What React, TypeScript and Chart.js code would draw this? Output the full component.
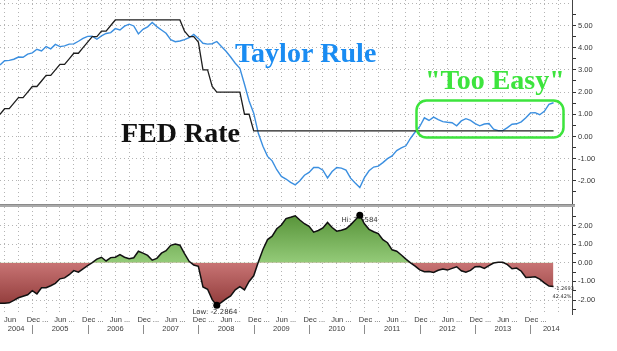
import React, { useEffect, useRef } from 'react';
import { Chart, registerables } from 'chart.js';

Chart.register(...registerables);

// ---------- categories (monthly, Jun 2004 .. Oct 2014; data ends Jun 2014) ----------
const MONTH_NAMES = ['Jan', 'Feb', 'Mar', 'Apr', 'May', 'Jun', 'Jul', 'Aug', 'Sep', 'Oct', 'Nov', 'Dec'];
const AXIS_YEARS = [2004, 2005, 2006, 2007, 2008, 2009, 2010, 2011, 2012, 2013, 2014];
const FIRST_MONTH_OF_AXIS = 5; // Jun 2004
const LAST_MONTH_OF_AXIS = 129; // Oct 2014

const categories: string[] = [];
AXIS_YEARS.forEach((y, yi) => {
  MONTH_NAMES.forEach((mn, mi) => {
    const m = yi * 12 + mi;
    if (m >= FIRST_MONTH_OF_AXIS && m <= LAST_MONTH_OF_AXIS) categories.push(`${mn} ${y}`);
  });
});

// ---------- series (Jun 2004 .. Jun 2014) ----------
const taylorRule = [
  3.22, 3.41, 3.43, 3.48, 3.58, 3.57, 3.71, 3.77, 3.93, 3.85, 4.05, 3.95,
  4.15, 4.05, 4.08, 4.16, 4.17, 4.29, 4.42, 4.51, 4.52, 4.38, 4.53, 4.64,
  4.68, 4.86, 4.80, 4.97, 5.06, 4.98, 4.62, 4.83, 4.94, 5.14, 4.95, 4.80,
  4.65, 4.36, 4.27, 4.30, 4.36, 4.45, 4.60, 4.42, 4.20, 4.16, 4.18, 4.28,
  4.05, 3.84, 3.58, 3.30, 3.07, 2.35, 1.60, 1.05, 0.14, -0.44, -0.90, -1.10,
  -1.50, -1.80, -1.92, -2.07, -2.18, -2.00, -1.75, -1.62, -1.40, -1.40, -1.52, -1.87,
  -1.58, -1.40, -1.43, -1.52, -1.88, -2.10, -2.30, -1.86, -1.55, -1.38, -1.34, -1.18,
  -1.00, -0.88, -0.64, -0.52, -0.42, -0.08, 0.20, 0.45, 0.84, 0.72, 0.87, 0.76,
  0.67, 0.64, 0.62, 0.48, 0.70, 0.80, 0.72, 0.58, 0.48, 0.56, 0.58, 0.33,
  0.26, 0.26, 0.40, 0.55, 0.57, 0.66, 0.84, 1.06, 1.07, 0.98, 1.13, 1.45, 1.52,
];

const fedRate = [
  1.00, 1.25, 1.25, 1.50, 1.75, 1.75, 2.00, 2.25, 2.25, 2.50, 2.75, 2.75,
  3.00, 3.25, 3.25, 3.50, 3.75, 3.75, 4.00, 4.25, 4.50, 4.50, 4.75, 4.75,
  5.00, 5.25, 5.25, 5.25, 5.25, 5.25, 5.25, 5.25, 5.25, 5.25, 5.25, 5.25,
  5.25, 5.25, 5.25, 5.25, 4.75, 4.50, 4.50, 4.25, 3.00, 3.00, 2.25, 2.00,
  2.00, 2.00, 2.00, 2.00, 2.00, 1.00, 1.00, 0.25, 0.25, 0.25, 0.25, 0.25,
  0.25, 0.25, 0.25, 0.25, 0.25, 0.25, 0.25, 0.25, 0.25, 0.25, 0.25, 0.25,
  0.25, 0.25, 0.25, 0.25, 0.25, 0.25, 0.25, 0.25, 0.25, 0.25, 0.25, 0.25,
  0.25, 0.25, 0.25, 0.25, 0.25, 0.25, 0.25, 0.25, 0.25, 0.25, 0.25, 0.25,
  0.25, 0.25, 0.25, 0.25, 0.25, 0.25, 0.25, 0.25, 0.25, 0.25, 0.25, 0.25,
  0.25, 0.25, 0.25, 0.25, 0.25, 0.25, 0.25, 0.25, 0.25, 0.25, 0.25, 0.25, 0.25,
];

const fedMinusTaylor = [
  -2.17, -2.17, -2.15, -2.02, -1.88, -1.80, -1.72, -1.50, -1.67, -1.34, -1.34, -1.23,
  -1.10, -0.86, -0.81, -0.64, -0.42, -0.50, -0.32, -0.15, 0.01, 0.20, 0.30, 0.10,
  0.28, 0.30, 0.44, 0.30, 0.22, 0.27, 0.62, 0.52, 0.40, 0.14, 0.24, 0.52,
  0.65, 0.94, 1.01, 0.95, 0.50, 0.08, -0.12, -0.19, -1.30, -1.42, -1.98, -2.2864,
  -2.12, -1.94, -1.78, -1.45, -1.28, -1.45, -1.00, -0.70, 0.04, 0.72, 1.25, 1.43,
  1.83, 2.03, 2.38, 2.45, 2.53, 2.30, 2.10, 1.96, 1.65, 1.74, 1.87, 2.17,
  1.90, 1.70, 1.75, 1.83, 2.04, 2.30, 2.5584, 2.10, 1.80, 1.67, 1.57, 1.24,
  1.08, 0.70, 0.62, 0.42, 0.20, 0.00, -0.18, -0.38, -0.48, -0.47, -0.52, -0.40,
  -0.33, -0.39, -0.30, -0.21, -0.43, -0.50, -0.41, -0.21, -0.20, -0.30, -0.15, -0.01,
  0.03, 0.03, -0.10, -0.32, -0.28, -0.45, -0.79, -0.77, -0.75, -0.88, -1.08, -1.25, -1.2693,
];
const lastPctLabel = '42.42%';

// ---------- tick labels ----------
const topAxisLabels = [-2, -1, 0, 1, 2, 3, 4, 5];
const topAxisMinor = [-2.5, -1.5, -0.5, 0.5, 1.5, 2.5, 3.5, 4.5, 5.5];
const topAxisGrid = [-2, -1, 0, 1, 2, 3, 4, 5, 6];
const bottomAxisLabels = [-2, -1, 0, 1, 2];
const bottomAxisMinor = [-2.5, -1.5, -0.5, 0.5, 1.5, 2.5];
const bottomAxisGrid = [-2, -1, 0, 1, 2];

const halfYearTicks = [
  'Jun 2004', 'Dec 2004', 'Jun 2005', 'Dec 2005', 'Jun 2006', 'Dec 2006', 'Jun 2007', 'Dec 2007',
  'Jun 2008', 'Dec 2008', 'Jun 2009', 'Dec 2009', 'Jun 2010', 'Dec 2010', 'Jun 2011', 'Dec 2011',
  'Jun 2012', 'Dec 2012', 'Jun 2013', 'Dec 2013',
];
const halfYearTickText = ['Jun', ...halfYearTicks.slice(1).map((t) => `${t.slice(0, 3)} ...`)];
const yearLabels = AXIS_YEARS.map(String);

const annotations = [
  { text: 'Taylor Rule', color: '#1a8cf2', x: 235, y: 61.5 },
  { text: 'FED Rate', color: '#111111', x: 121, y: 141.5 },
  { text: '"Too Easy"', color: '#3de43d', x: 425, y: 89 },
];

// ---------- styles ----------
const W = 617;
const TOP_H = 207;
const BOT_H = 144;
const AXIS_W = 45;
const GRID = '#b4b4b4';
const AXIS_FONT = '"Liberation Sans", Arial, sans-serif';

const isIn = (arr: number[], v: number) => arr.some((a) => Math.abs(a - v) < 1e-6);

function rightAxis(min: number, max: number, labels: number[], minor: number[], grid: number[]) {
  const all = [...labels, ...minor].sort((a, b) => a - b);
  const gridAll = Array.from(new Set([...all, ...grid])).sort((a, b) => a - b);
  return {
    type: 'linear',
    position: 'right',
    min,
    max,
    afterBuildTicks: (s: any) => {
      s.ticks = gridAll.map((v) => ({ value: v }));
    },
    afterFit: (s: any) => {
      s.width = AXIS_W;
      s.paddingTop = 0;
      s.paddingBottom = 0;
    },
    ticks: {
      autoSkip: false,
      padding: 2,
      color: '#333',
      font: { family: AXIS_FONT, size: 7.5 },
      callback: (v: any) => (isIn(labels, Number(v)) ? Number(v).toFixed(2) : ''),
    },
    grid: {
      color: (ctx: any) => (ctx.tick && isIn(grid, ctx.tick.value) ? GRID : 'rgba(0,0,0,0)'),
      tickColor: (ctx: any) => (ctx.tick && isIn(all, ctx.tick.value) ? '#333' : 'rgba(0,0,0,0)'),
      lineWidth: 1,
      drawTicks: true,
      tickLength: 4,
      tickWidth: 1,
    },
    border: { display: true, color: '#444', width: 1, dash: [1, 3] },
  };
}

function xAxis() {
  return {
    type: 'category',
    offset: false,
    ticks: { display: false, autoSkip: false },
    grid: {
      offset: false,
      drawTicks: false,
      lineWidth: 1,
      color: (ctx: any) =>
        (ctx.index + FIRST_MONTH_OF_AXIS) % 3 === 0 && ctx.index > 0 ? GRID : 'rgba(0,0,0,0)',
    },
    border: { display: false, dash: [1, 3] },
  };
}

const topDecor = {
  id: 'topDecor',
  afterDraw(chart: any) {
    const c = chart.ctx as CanvasRenderingContext2D;
    c.save();
    c.font = 'bold 28px "Liberation Serif", "Times New Roman", serif';
    c.textAlign = 'left';
    c.textBaseline = 'alphabetic';
    annotations.forEach((a) => {
      c.fillStyle = a.color;
      c.fillText(a.text, a.x, a.y);
    });
    c.strokeStyle = '#3de43d';
    c.lineWidth = 2.5;
    c.beginPath();
    (c as any).roundRect(416.5, 100.5, 147, 37, 10);
    c.stroke();
    // panel separator
    c.fillStyle = '#a9a9a9';
    c.fillRect(0, 204, 575, 3);
    c.fillStyle = '#8a8a8a';
    c.fillRect(0, 204, 575, 1);
    c.restore();
  },
};

const bottomDecor = {
  id: 'bottomDecor',
  beforeDatasetsDraw(chart: any) {
    const c = chart.ctx as CanvasRenderingContext2D;
    const meta = chart.getDatasetMeta(0);
    const hiIdx = fedMinusTaylor.indexOf(Math.max(...fedMinusTaylor));
    const loIdx = fedMinusTaylor.indexOf(Math.min(...fedMinusTaylor));
    const hi = meta.data[hiIdx];
    const lo = meta.data[loIdx];
    const last = meta.data[fedMinusTaylor.length - 1];
    c.save();
    c.fillStyle = '#333';
    c.textAlign = 'left';
    c.textBaseline = 'middle';
    c.font = '7px "DejaVu Sans", sans-serif';
    c.fillText(`Hi: ${fedMinusTaylor[hiIdx].toFixed(4)}`, hi.x - 18.3, hi.y + 5);
    c.fillText(`Low: ${fedMinusTaylor[loIdx].toFixed(4)}`, lo.x - 24.3, lo.y + 7);
    c.font = '5px "DejaVu Sans", sans-serif';
    c.fillText(fedMinusTaylor[fedMinusTaylor.length - 1].toFixed(4), last.x + 1, last.y + 2.5);
    c.fillText(lastPctLabel, last.x - 1, last.y + 10);
    c.restore();
  },
  afterDraw(chart: any) {
    const c = chart.ctx as CanvasRenderingContext2D;
    const xs = chart.scales.x;
    const area = chart.chartArea;
    const px = (name: string) => xs.getPixelForValue(categories.indexOf(name));
    c.save();
    c.fillStyle = '#3c3c3c';
    c.textBaseline = 'middle';
    c.font = `7.5px ${AXIS_FONT}`;
    c.textAlign = 'left';
    halfYearTicks.forEach((t, i) => {
      const x = Math.max(px(t) - 1, 4);
      c.fillText(halfYearTickText[i], x, area.bottom + 5.5);
    });
    // year separators and labels
    const seps = yearLabels.slice(1).map((y) => px(`Jan ${y}`));
    c.strokeStyle = '#8c8c8c';
    c.lineWidth = 1;
    seps.forEach((x) => {
      c.beginPath();
      c.moveTo(Math.round(x) + 0.5, area.bottom + 11);
      c.lineTo(Math.round(x) + 0.5, area.bottom + 20);
      c.stroke();
    });
    c.textAlign = 'center';
    yearLabels.forEach((y, i) => {
      const l = i === 0 ? area.left : seps[i - 1];
      const r = i === yearLabels.length - 1 ? area.right : seps[i];
      c.fillText(y, (l + r) / 2, area.bottom + 15);
    });
    c.restore();
  },
};

export default function App() {
  const topRef = useRef<HTMLCanvasElement>(null);
  const botRef = useRef<HTMLCanvasElement>(null);

  useEffect(() => {
    const hiIdx = fedMinusTaylor.indexOf(Math.max(...fedMinusTaylor));
    const loIdx = fedMinusTaylor.indexOf(Math.min(...fedMinusTaylor));

    const common = {
      responsive: false,
      maintainAspectRatio: false,
      animation: false,
      events: [],
      plugins: { legend: { display: false }, tooltip: { enabled: false } },
    };

    const top = new Chart(topRef.current!, {
      type: 'line',
      data: {
        labels: categories,
        datasets: [
          {
            label: 'FED Rate',
            data: fedRate,
            borderColor: '#1e1e1e',
            borderWidth: 1.3,
            pointRadius: 0,
            tension: 0,
            fill: false,
          },
          {
            label: 'Taylor Rule',
            data: taylorRule,
            borderColor: '#3b8fe0',
            borderWidth: 1.4,
            pointRadius: 0,
            tension: 0,
            fill: false,
          },
        ],
      },
      options: {
        ...common,
        layout: { padding: { top: 0, bottom: 4, left: 0, right: 0 } },
        scales: {
          x: xAxis(),
          y: rightAxis(-3.0, 6.15, topAxisLabels, topAxisMinor, topAxisGrid),
        },
      } as any,
      plugins: [topDecor],
    });

    const bottom = new Chart(botRef.current!, {
      type: 'line',
      data: {
        labels: categories,
        datasets: [
          {
            label: 'FED - Taylor',
            data: fedMinusTaylor,
            borderColor: '#111',
            borderWidth: 1.5,
            tension: 0,
            pointRadius: (ctx: any) => (ctx.dataIndex === hiIdx || ctx.dataIndex === loIdx ? 3.5 : 0),
            pointBackgroundColor: '#000',
            pointBorderWidth: 0,
            backgroundColor: '#8fc870',
            fill: (ctx: any) => {
              const chart = ctx.chart;
              const area = chart.chartArea;
              if (!area || !chart.scales.y) return { target: 'origin', above: '#7ab55c', below: '#b45a5a' };
              const y0 = chart.scales.y.getPixelForValue(0);
              const g = chart.ctx as CanvasRenderingContext2D;
              const ga = g.createLinearGradient(0, area.top, 0, y0);
              ga.addColorStop(0, '#4d8a2e');
              ga.addColorStop(1, '#94cb79');
              const gb = g.createLinearGradient(0, y0, 0, area.bottom);
              gb.addColorStop(0, '#c87474');
              gb.addColorStop(1, '#86302f');
              return { target: 'origin', above: ga, below: gb };
            },
          },
        ],
      },
      options: {
        ...common,
        layout: { padding: { top: 0, bottom: 37, left: 0, right: 0 } },
        scales: {
          x: xAxis(),
          y: rightAxis(-2.75, 3.0, bottomAxisLabels, bottomAxisMinor, bottomAxisGrid),
        },
      } as any,
      plugins: [bottomDecor],
    });

    return () => {
      top.destroy();
      bottom.destroy();
    };
  }, []);

  return (
    <div style={{ position: 'absolute', left: 0, top: 0, width: W, height: TOP_H + BOT_H, background: '#fff' }}>
      <canvas ref={topRef} width={W} height={TOP_H} style={{ display: 'block' }} />
      <canvas ref={botRef} width={W} height={BOT_H} style={{ display: 'block' }} />
    </div>
  );
}
